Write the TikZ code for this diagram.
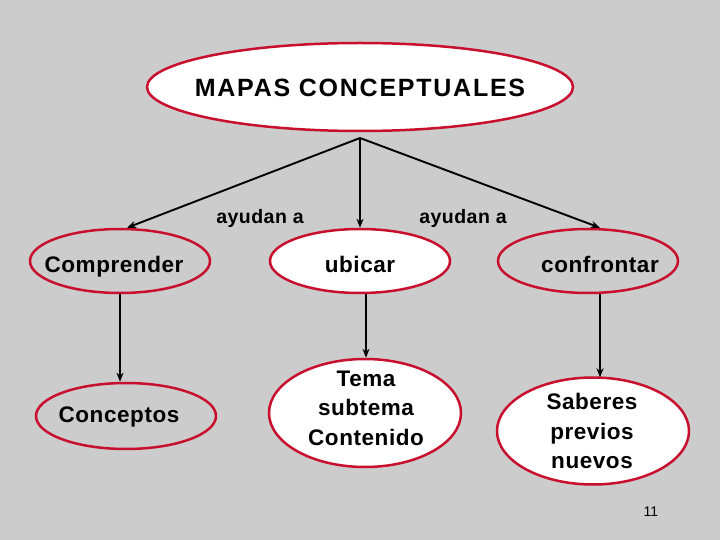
\documentclass[tikz,border=0pt]{standalone}
\usepackage{fontspec}
\setmainfont{Liberation Sans}
\newfontfamily\spaced[LetterSpace=2.5]{Liberation Sans}
\newfontfamily\spacedtop[LetterSpace=7]{Liberation Sans}
\usetikzlibrary{shapes.geometric,arrows.meta}
\definecolor{bg}{RGB}{204,204,204}
\definecolor{ered}{RGB}{200,16,46}
\begin{document}
\begin{tikzpicture}[x=1pt,y=-1pt,
  ell/.style={ellipse,draw=ered,line width=2.5pt,inner sep=0pt},
  wfill/.style={fill=white},
  txt/.style={font=\spaced\bfseries\fontsize{22.5}{29.5}\selectfont,align=center,inner sep=0pt,text=black},
  small/.style={font=\spaced\bfseries\fontsize{19.5}{24}\selectfont,inner sep=0pt},
  con/.style={draw=black,line width=1.9pt,-{Stealth[length=9pt,width=7pt]}}
  ]
\fill[bg] (0,0) rectangle (720,540);
\useasboundingbox (0,0) rectangle (720,540);

% ellipses
\node[ell,wfill,minimum width=426pt,minimum height=88pt] (top) at (360,87) {};
\node[ell,minimum width=180pt,minimum height=64pt] (comp) at (120,261) {};
\node[ell,wfill,minimum width=180pt,minimum height=64pt] (ubic) at (360,261) {};
\node[ell,minimum width=180pt,minimum height=64pt] (conf) at (588,261) {};
\node[ell,minimum width=180pt,minimum height=66pt] (conc) at (126,416) {};
\node[ell,wfill,minimum width=192pt,minimum height=108pt] (tema) at (365,413) {};
\node[ell,wfill,minimum width=192pt,minimum height=107pt] (sab) at (593,431) {};

% texts
\node[font=\spacedtop\bfseries\fontsize{25}{30}\selectfont,inner sep=0pt,anchor=base] (toptxt) at (360,97) {MAPAS CONCEPTUALES};
\node[txt,anchor=base] (comptxt) at (114,272) {Comprender};
\node[txt,anchor=base] (ubictxt) at (360,272) {ubicar};
\node[txt,anchor=base] (conftxt) at (600,272) {confrontar};
\node[txt,anchor=base] (conctxt) at (119,422) {Conceptos};
\node[txt] (tematxt) at (366,408) {Tema\\subtema\\Contenido};
\node[txt] (sabtxt) at (592,431) {Saberes\\previos\\nuevos};

\node[small,anchor=base] (l1) at (260,223) {ayudan a};
\node[small,anchor=base] (l2) at (463,223) {ayudan a};

\node[font=\fontsize{14}{16}\selectfont,inner sep=0pt,anchor=base] (pg) at (651,516) {11};

% connectors
\coordinate (j) at (360,138);
\draw[con] (j) -- ([xshift=7pt]comp.north);
\draw[con] (j) -- (ubic.north);
\draw[con] (j) -- ([xshift=12pt]conf.north);
\draw[con] (comp.south) -- (comp.south |- conc.north);
\draw[con] ([xshift=6pt]ubic.south) -- ([xshift=6pt]ubic.south |- tema.north);
\draw[con] ([xshift=12pt]conf.south) -- ([xshift=12pt,yshift=-1pt]conf.south |- sab.north);
\end{tikzpicture}
\end{document}
